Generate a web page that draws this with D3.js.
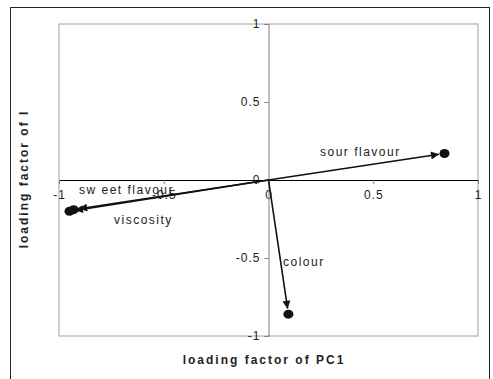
<!DOCTYPE html>
<html>
<head>
<meta charset="utf-8">
<script src="https://cdn.jsdelivr.net/npm/d3@7"></script>
<style>
  body { margin: 0; background: #fff; }
  text { font-family: "Liberation Sans", Arial, sans-serif; }
</style>
</head>
<body>
<svg id="chart" width="493" height="379"></svg>
<script>
// Données
let variables = ["sour flavour", "colour", "sweet flavour", "viscosity"];
let pc1 = [0.84, 0.095, -0.95, -0.93];
let pcI = [0.17, -0.86, -0.20, -0.19];
let ticks = [-1, -0.5, 0, 0.5, 1];
let tickLabels = ["-1", "-0.5", "0", "0.5", "1"];
let labelVariables = ["sour flavour", "colour", "sw eet flavour", "viscosity"];

let svg = d3.select("#chart");

// Cadre extérieur
svg.append("rect")
  .attr("x", 10.5).attr("y", 7.5)
  .attr("width", 479).attr("height", 400)
  .style("fill", "none").style("stroke", "#222").style("stroke-width", 1);

let x = d3.scaleLinear().domain([-1, 1]).range([59, 478]);
let y = d3.scaleLinear().domain([-1, 1]).range([336, 24]);

// Zone de tracé
svg.append("rect")
  .attr("x", x(-1)).attr("y", y(1))
  .attr("width", x(1) - x(-1)).attr("height", y(-1) - y(1))
  .style("fill", "none").style("stroke", "#a0a0a0").style("stroke-width", 1);

// Axe horizontal (à y=0)
let axeX = svg.append("g")
  .attr("transform", `translate(0,${y(0)})`)
  .call(d3.axisBottom(x).tickValues(ticks).tickSize(4).tickPadding(6)
    .tickFormat((d, i) => tickLabels[i]));
axeX.select(".domain").style("stroke", "#000");
axeX.selectAll("line").style("stroke", "#808080");
axeX.selectAll("text")
  .style("font-size", "12px").style("letter-spacing", "1px").style("fill", "#222");

// Axe vertical (à x=0)
let axeY = svg.append("g")
  .attr("transform", `translate(${x(0)},0)`)
  .call(d3.axisLeft(y).tickValues(ticks).tickSize(4).tickPadding(4)
    .tickFormat((d, i) => tickLabels[i]));
axeY.select(".domain").style("stroke", "#808080");
axeY.selectAll("line").style("stroke", "#808080");
axeY.selectAll("text")
  .style("font-size", "12px").style("letter-spacing", "1px").style("fill", "#222");

// Flèche
svg.append("defs").append("marker")
  .attr("id", "fleche")
  .attr("viewBox", "0 0 10 10")
  .attr("refX", 10).attr("refY", 5)
  .attr("markerWidth", 10).attr("markerHeight", 8)
  .attr("markerUnits", "userSpaceOnUse")
  .attr("orient", "auto")
  .append("path")
  .attr("d", "M0,0 L10,5 L0,10 Z")
  .style("fill", "#111");

let r = 4.5;
variables.forEach(function(v, i) {
  let x1 = x(pc1[i]), y1 = y(pcI[i]);
  let x0 = x(0), y0 = y(0);
  let len = Math.hypot(x1 - x0, y1 - y0);
  let k = (len - r - 1) / len;
  svg.append("line")
    .attr("x1", x0).attr("y1", y0)
    .attr("x2", x0 + (x1 - x0) * k).attr("y2", y0 + (y1 - y0) * k)
    .style("stroke", "#111").style("stroke-width", 1.6)
    .attr("marker-end", "url(#fleche)");
  svg.append("ellipse")
    .attr("cx", x1).attr("cy", y1)
    .attr("rx", r + 0.5).attr("ry", r)
    .style("fill", "#111");
});

// Étiquettes des variables
let posLabels = [[320, 156], [283, 266], [79, 194], [114, 224]];
svg.selectAll("text.etiquette")
  .data(labelVariables)
  .enter()
  .append("text")
  .attr("class", "etiquette")
  .attr("x", (d, i) => posLabels[i][0])
  .attr("y", (d, i) => posLabels[i][1])
  .style("font-size", "12px").style("letter-spacing", "1.5px").style("fill", "#222")
  .text(d => d);

// Titres des axes
svg.append("text")
  .attr("x", 264).attr("y", 364)
  .attr("text-anchor", "middle")
  .style("font-size", "12px").style("font-weight", "bold").style("letter-spacing", "2px")
  .style("fill", "#222")
  .text("loading factor of PC1");

svg.append("text")
  .attr("transform", "translate(28,179) rotate(-90)")
  .attr("text-anchor", "middle")
  .style("font-size", "12px").style("font-weight", "bold").style("letter-spacing", "2px")
  .style("fill", "#222")
  .text("loading factor of I");
</script>
</body>
</html>
